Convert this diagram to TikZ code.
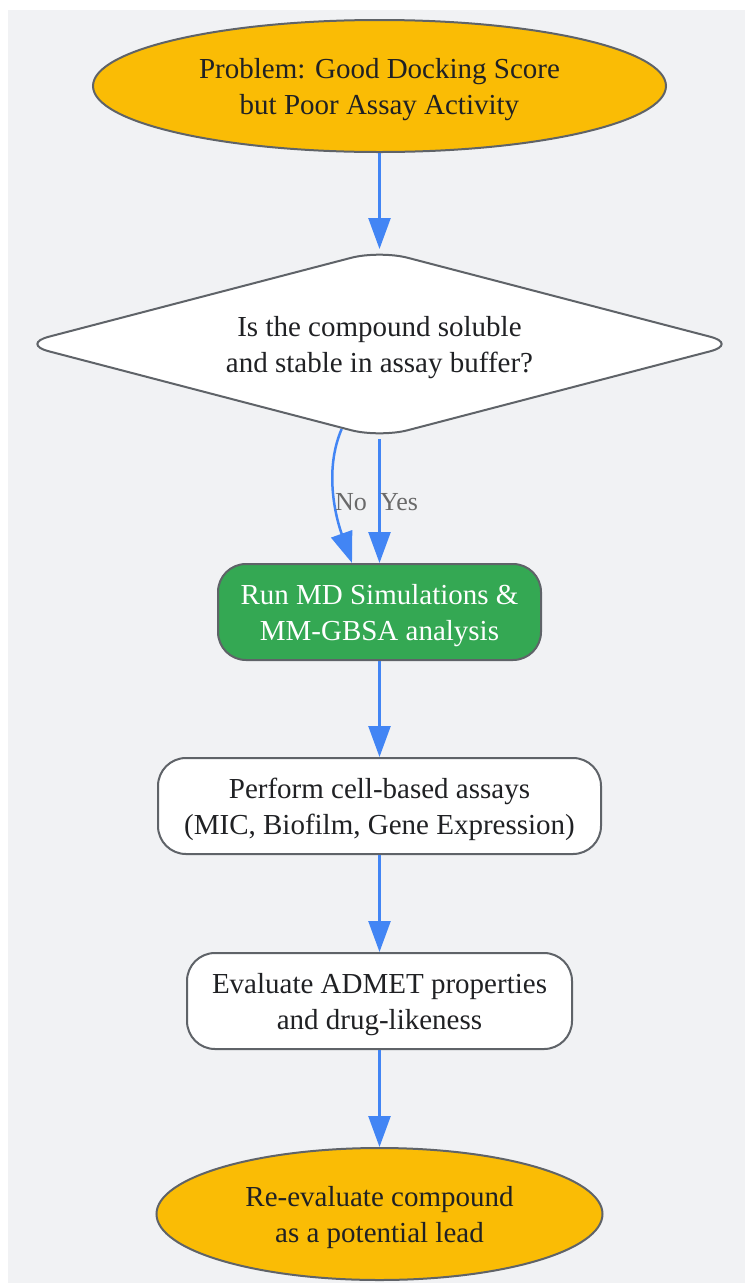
\documentclass[tikz,border=0pt]{standalone}
\usepackage{fontspec}
\setmainfont{Liberation Serif}
\usetikzlibrary{shapes.geometric,arrows.meta}
\definecolor{bgc}{HTML}{F1F2F4}
\definecolor{amber}{HTML}{FABC05}
\definecolor{ggreen}{HTML}{34A853}
\definecolor{gblue}{HTML}{4285F4}
\definecolor{edgec}{HTML}{5F6368}
\definecolor{txt}{HTML}{202124}
\definecolor{lbl}{HTML}{6A6A6A}
\newcommand\mytopstrut{\rule{0pt}{28pt}}
\newcommand\mybotstrut{\rule[-6.5pt]{0pt}{0pt}}
\tikzset{
  base/.style={draw=edgec, line width=2pt, inner sep=0pt, align=center, text=txt,
    font=\fontsize{29}{36}\selectfont},
  term/.style={base, ellipse, fill=amber, minimum height=132pt},
  decision/.style={base, diamond, fill=white, aspect=3.82, rounded corners=29pt,
    minimum width=718pt, minimum height=188pt},
  proc/.style={base, rectangle, rounded corners=28pt, fill=white, minimum height=96pt},
  greenproc/.style={proc, fill=ggreen, text=white},
  flow/.style={draw=gblue, line width=2.5pt, -{Triangle[length=31pt,width=22pt]}},
  elabel/.style={text=lbl, font=\fontsize{26}{30}\selectfont, inner sep=0pt}
}
\begin{document}
\begin{tikzpicture}[x=1pt,y=-1pt]
\useasboundingbox (0,0) rectangle (745,1283);
\fill[bgc] (8,10) rectangle (745,1283);

\node[term, minimum width=573pt] (start) at (379.5,86) {\mytopstrut Problem: Good Docking Score\\but Poor Assay Activity\mybotstrut};
\node[decision] (dec) at (379.5,344) {\mytopstrut Is the compound soluble\\and stable in assay buffer?\mybotstrut};
\node[greenproc, minimum width=323pt] (md) at (379.5,612) {\mytopstrut Run MD Simulations \&\\MM-GBSA analysis\mybotstrut};
\node[proc, minimum width=443pt] (cell) at (379.5,806) {\mytopstrut Perform cell-based assays\\(MIC, Biofilm, Gene Expression)\mybotstrut};
\node[proc, minimum width=385pt] (admet) at (379.5,1001) {\mytopstrut Evaluate ADMET properties\\and drug-likeness\mybotstrut};
\node[term, minimum width=446pt] (lead) at (379.5,1214) {\mytopstrut Re-evaluate compound\\as a potential lead\mybotstrut};

\draw[flow] (start.south) -- (dec.north);
\draw[flow] (dec.246) .. controls +(-18,42) and +(-16,-45) .. ([xshift=-27.5pt]md.north);
\draw[flow] (dec.south) -- (md.north);
\draw[flow] (md.south) -- (cell.north);
\draw[flow] (cell.south) -- (admet.north);
\draw[flow] (admet.south) -- (lead.north);

\node[elabel] (lno) at (351,502) {No};
\node[elabel] (lyes) at (399,502) {Yes};
\end{tikzpicture}
\end{document}
